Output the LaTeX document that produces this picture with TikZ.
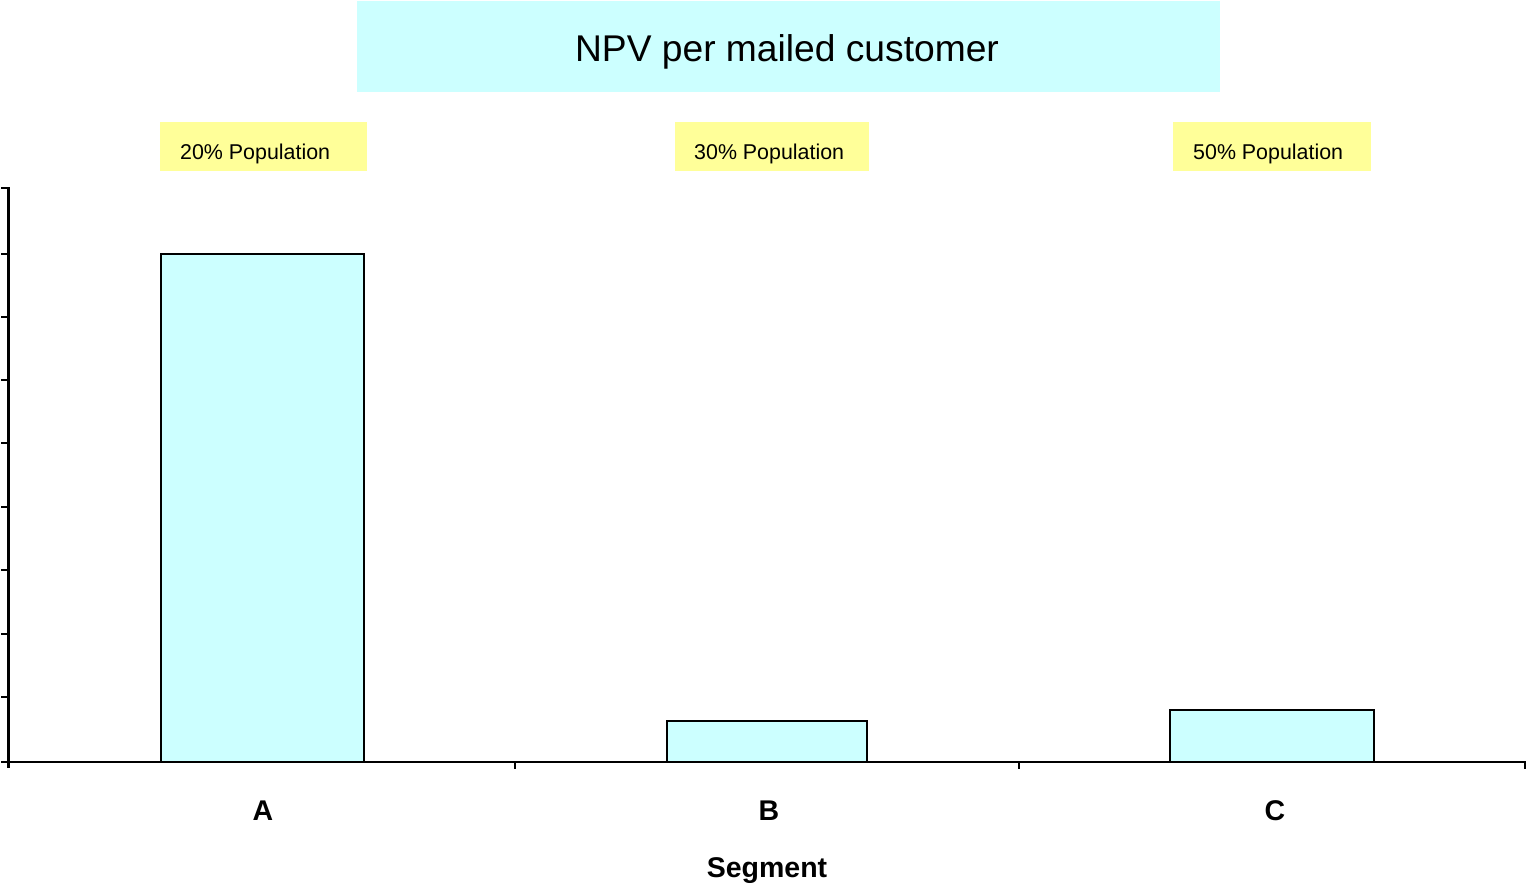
\documentclass[tikz,border=0pt]{standalone}
\usepackage{fontspec}
\setmainfont{Liberation Sans}
\definecolor{barcyan}{HTML}{CCFFFF}
\definecolor{tagyellow}{HTML}{FFFF99}
\begin{document}
\begin{tikzpicture}[x=1pt,y=-1pt,
  axisline/.style={line width=2.8pt,line cap=rect},
  bar/.style={draw=black,fill=barcyan,line width=2.8pt},
  tagbox/.style={fill=tagyellow,draw=none},
  taglabel/.style={anchor=base west,inner sep=0pt,font=\fontsize{21.4}{24}\selectfont},
  catlabel/.style={anchor=base,inner sep=0pt,font=\fontsize{28.5}{32}\selectfont\bfseries}]
\useasboundingbox (0,0) rectangle (1528,885);

% title banner
\fill[barcyan] (357,1) rectangle (1220,92);
\node[anchor=base,inner sep=0pt,font=\fontsize{37.2}{42}\selectfont] (title) at (787,62) {NPV per mailed customer};

% population tags
\fill[tagbox] (160,122) rectangle (367,171);
\node[taglabel] (tagA) at (180,160) {20\% Population};
\fill[tagbox] (675,122) rectangle (869,171);
\node[taglabel] (tagB) at (694,160) {30\% Population};
\fill[tagbox] (1173,122) rectangle (1371,171);
\node[taglabel] (tagC) at (1193,160) {50\% Population};

% bars
\draw[bar] (161,762) rectangle (364,254);
\draw[bar] (667,762) rectangle (867,721);
\draw[bar] (1170,762) rectangle (1374,710);

% axes
\draw[axisline] (8.5,188) -- (8.5,767);
\draw[axisline] (8.5,762) -- (1525,762) -- (1525,768);
\foreach \yy in {188,254,317,380,443,507,570,634,697,762}
  \draw[axisline] (2.5,\yy) -- (8.5,\yy);
\foreach \xx in {515,1019}
  \draw[axisline] (\xx,762) -- (\xx,768);

% category labels
\node[catlabel] (catA) at (263,820) {A};
\node[catlabel] (catB) at (769,820) {B};
\node[catlabel] (catC) at (1275,820) {C};
\node[catlabel] (xtitle) at (767,877) {Segment};
\end{tikzpicture}
\end{document}
